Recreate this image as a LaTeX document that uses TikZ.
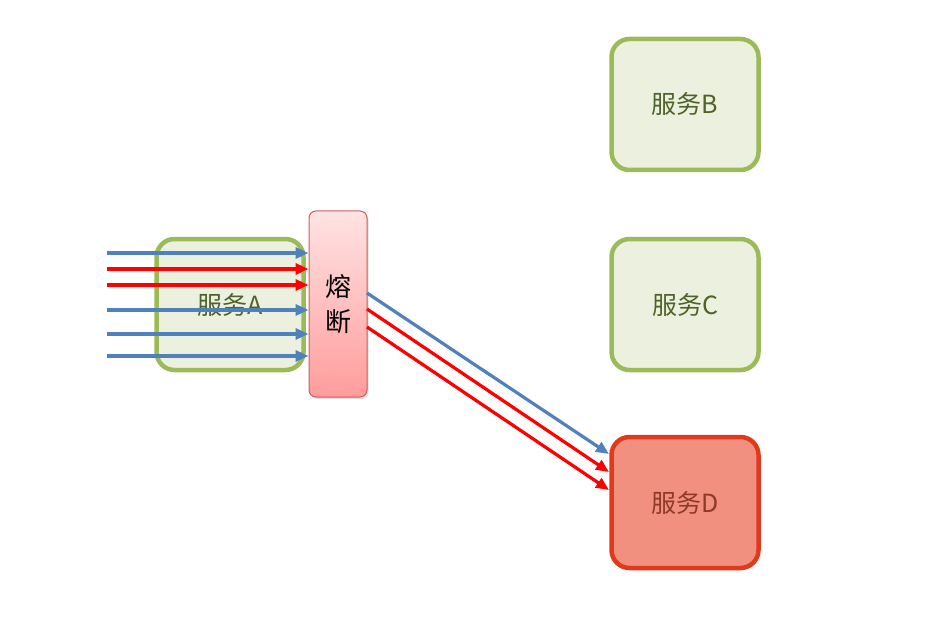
\documentclass[tikz,border=0pt]{standalone}
\usepackage{fontspec}
\setmainfont{Noto Sans CJK SC}
\usetikzlibrary{arrows.meta,shadows}
\definecolor{svcline}{HTML}{9BBB59}
\definecolor{svcfill}{HTML}{EBF1DE}
\definecolor{svctext}{HTML}{4F6228}
\definecolor{badline}{HTML}{E0391D}
\definecolor{badfill}{HTML}{F2907F}
\definecolor{badtext}{HTML}{8E3A26}
\definecolor{fusetop}{HTML}{FFE3E3}
\definecolor{fusebot}{HTML}{FF9C9C}
\definecolor{fuseline}{HTML}{C8605C}
\definecolor{okflow}{HTML}{4F81BD}
\definecolor{badflow}{HTML}{FF0000}
\tikzset{
  service/.style={draw=svcline, fill=svcfill, line width=4.5pt, rounded corners=18pt,
    minimum width=147pt, minimum height=131pt, inner sep=0pt,
    text=svctext, font=\fontsize{25}{30}\selectfont},
  failed/.style={service, draw=badline, fill=badfill, text=badtext},
  fuse/.style={draw=fuseline, line width=1pt, rounded corners=7pt,
    top color=fusetop, bottom color=fusebot,
    minimum width=58pt, minimum height=186pt, inner sep=0pt,
    font=\fontsize{26}{35}\selectfont, align=center,
    drop shadow={opacity=0.25, shadow xshift=1.5pt, shadow yshift=-2pt}},
  flow/.style={line width=3.2pt, -{Triangle[length=13pt,width=11pt]}},
  ok/.style={flow, draw=okflow},
  bad/.style={flow, draw=badflow},
}
\begin{document}
\begin{tikzpicture}[x=1pt,y=-1pt]
  \useasboundingbox (0,0) rectangle (941,636);
  % services
  \node[service] (A) at (230,304.5) {服务A};
  \node[service] (B) at (685,104.5) {服务B};
  \node[service] (C) at (685,304.5) {服务C};
  \node[failed]  (D) at (685,502.5) {服务D};
  % circuit breaker in front of A
  \node[fuse] (F) at (338,304) {熔\\断};
  % incoming requests
  \foreach \y/\s/\n in {253/ok/1, 269/bad/2, 285/bad/3, 310/ok/4, 334/ok/5, 356/ok/6} {
    \coordinate (in\n) at (107,\y);
    \draw[\s] (in\n) -- (in\n -| F.west);
  }
  % forwarded to D
  \coordinate (o1) at (367,293);
  \coordinate (o2) at (367,309);
  \coordinate (o3) at (367,327);
  \coordinate (t1) at (609,454);
  \coordinate (t2) at (609,472);
  \coordinate (t3) at (609,490);
  \draw[ok]  (o1) -- (t1);
  \draw[bad] (o2) -- (t2);
  \draw[bad] (o3) -- (t3);
\end{tikzpicture}
\end{document}
